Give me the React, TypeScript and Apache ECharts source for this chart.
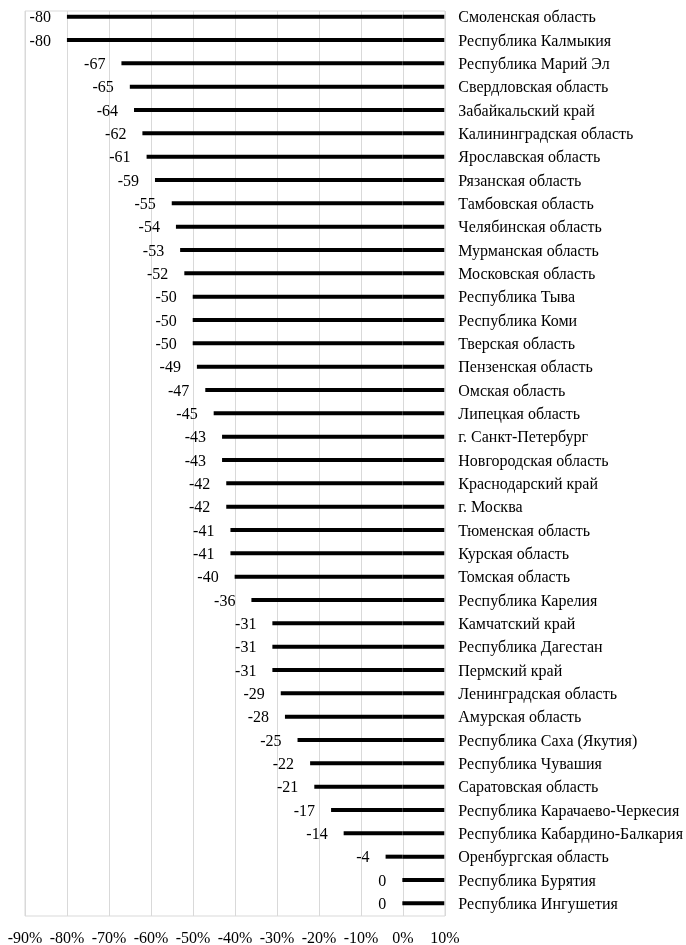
import React, { useEffect, useRef } from "react";
import * as echarts from "echarts";

// Regions, listed top to bottom
const regions: string[] = [
  "Смоленская область",
  "Республика Калмыкия",
  "Республика Марий Эл",
  "Свердловская область",
  "Забайкальский край",
  "Калининградская область",
  "Ярославская область",
  "Рязанская область",
  "Тамбовская область",
  "Челябинская область",
  "Мурманская область",
  "Московская область",
  "Республика Тыва",
  "Республика Коми",
  "Тверская область",
  "Пензенская область",
  "Омская область",
  "Липецкая область",
  "г. Санкт-Петербург",
  "Новгородская область",
  "Краснодарский край",
  "г. Москва",
  "Тюменская область",
  "Курская область",
  "Томская область",
  "Республика Карелия",
  "Камчатский край",
  "Республика Дагестан",
  "Пермский край",
  "Ленинградская область",
  "Амурская область",
  "Республика Саха (Якутия)",
  "Республика Чувашия",
  "Саратовская область",
  "Республика Карачаево-Черкесия",
  "Республика Кабардино-Балкария",
  "Оренбургская область",
  "Республика Бурятия",
  "Республика Ингушетия",
];

// Change, %
const changes: number[] = [
  -80, -80, -67, -65, -64, -62, -61, -59, -55, -54, -53, -52, -50, -50, -50,
  -49, -47, -45, -43, -43, -42, -42, -41, -41, -40, -36, -31, -31, -31, -29,
  -28, -25, -22, -21, -17, -14, -4, 0, 0,
];

// Axis range (%); bars run from the value up to the axis at the maximum
const axisMin = -90;
const axisMax = 10;
const axisStep = 10;

const FONT = "Liberation Serif";

export default function App() {
  const ref = useRef<HTMLDivElement>(null);

  useEffect(() => {
    if (!ref.current) return;
    const chart = echarts.init(ref.current, undefined, { renderer: "svg" });
    const baseline = regions.map(() => axisMax);

    chart.setOption({
      animation: false,
      textStyle: { fontFamily: FONT },
      grid: [
        {
          left: 25,
          top: 11,
          width: 420,
          height: 910,
          show: true,
          borderColor: "#d9d9d9",
          borderWidth: 1,
        },
        { left: 25, top: 5, width: 420, height: 910 },
      ],
      xAxis: [
        {
          gridIndex: 0,
          type: "value",
          min: axisMin,
          max: axisMax,
          interval: axisStep,
          axisLine: { show: false },
          axisTick: { show: false },
          splitLine: { lineStyle: { color: "#d9d9d9", width: 1 } },
          axisLabel: {
            formatter: "{value}%",
            color: "#000",
            fontSize: 16,
            fontFamily: FONT,
            margin: 13,
          },
        },
        {
          gridIndex: 1,
          type: "value",
          min: axisMin,
          max: axisMax,
          show: false,
        },
      ],
      yAxis: [
        {
          gridIndex: 0,
          type: "category",
          data: regions,
          show: false,
        },
        {
          gridIndex: 1,
          type: "category",
          data: regions,
          inverse: true,
          position: "right",
          axisLine: { show: false },
          axisTick: { show: false },
          splitLine: { show: false },
          axisLabel: {
            color: "#000",
            fontSize: 16,
            fontFamily: FONT,
            margin: 14,
          },
        },
      ],
      series: [
        {
          type: "bar",
          xAxisIndex: 1,
          yAxisIndex: 1,
          data: changes,
          barWidth: 4,
          barGap: "-100%",
          itemStyle: { color: "#000" },
          label: {
            show: true,
            position: "left",
            distance: 16,
            color: "#000",
            fontSize: 16,
            fontFamily: FONT,
            formatter: (p: any) => String(p.value),
          },
        },
        {
          type: "bar",
          xAxisIndex: 1,
          yAxisIndex: 1,
          data: baseline,
          barWidth: 4,
          barGap: "-100%",
          itemStyle: { color: "#000" },
          silent: true,
        },
      ],
    });

    return () => chart.dispose();
  }, []);

  return (
    <div
      ref={ref}
      style={{ position: "fixed", left: 0, top: 0, width: 686, height: 945 }}
    />
  );
}
